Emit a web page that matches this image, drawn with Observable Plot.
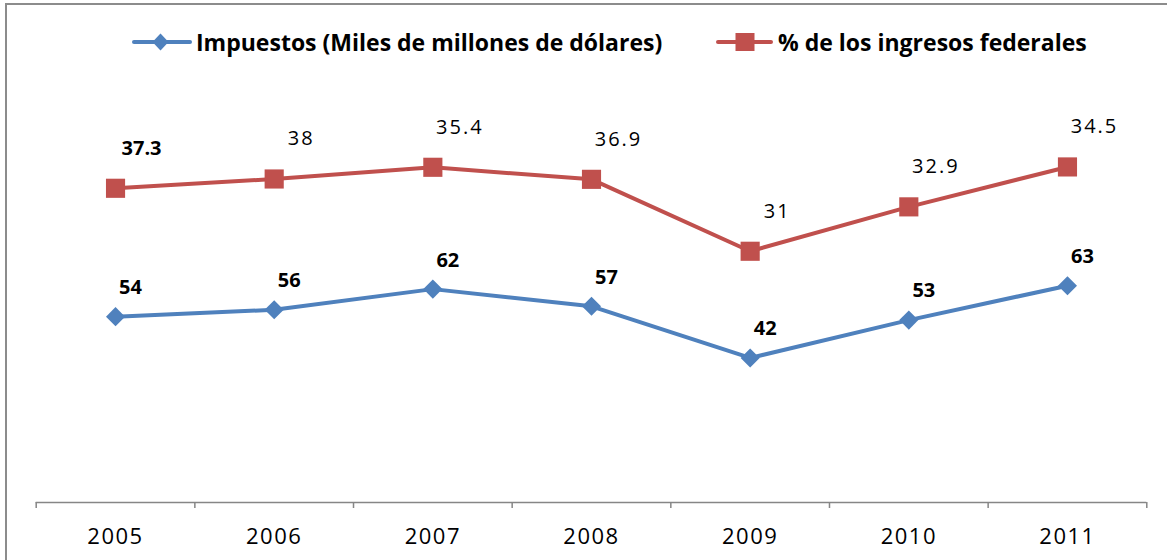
<!DOCTYPE html>
<html><head><meta charset="utf-8">
<script src="https://cdn.jsdelivr.net/npm/d3@7"></script>
<script src="https://cdn.jsdelivr.net/npm/@observablehq/plot@0.6"></script>
<style>
html,body{margin:0;padding:0;background:#fff;width:1167px;height:560px;overflow:hidden;font-family:"Open Sans",sans-serif;}
#frame{position:absolute;left:5px;top:3px;width:1200px;height:600px;border-left:2px solid #8c8c8c;border-top:2px solid #8c8c8c;}
#legend{position:absolute;left:0;top:0;width:1167px;height:70px;}
.item{position:absolute;top:26px;height:32px;display:flex;align-items:center;font-weight:bold;font-size:23px;color:#000;white-space:nowrap;}
#chart{position:absolute;left:0;top:70px;}
</style></head>
<body>
<div id="frame"></div>
<div id="legend"></div>
<div id="chart"></div>
<script>
// ---- data ----
const years = [2005, 2006, 2007, 2008, 2009, 2010, 2011];
const impuestos = [54, 56, 62, 57, 42, 53, 63];
const porcentaje = [37.3, 38, 35.4, 36.9, 31, 32.9, 34.5];
const seriesNames = ["Impuestos (Miles de millones de dólares)", "% de los ingresos federales"];

const blue = "#4F81BD", red = "#C0504D", axisGray = "#868686";
const font = "'Open Sans', sans-serif";

// stacked line chart: second series sits on top of the first
const impRows = years.map((year, i) => ({year, value: impuestos[i], top: impuestos[i]}));
const pctRows = years.map((year, i) => ({year, value: porcentaje[i], top: impuestos[i] + porcentaje[i], first: i === 0}));
const boundaries = years.map(y => y - 0.5).concat([years[years.length - 1] + 0.5]);

// ---- legend ----
const legend = document.getElementById("legend");
function addItem(left, color, symbol, label, gap) {
  const div = document.createElement("div");
  div.className = "item";
  div.style.left = left + "px";
  const shape = symbol === "diamond"
    ? `<path d="M28.5,1.5 L36.5,10 L28.5,18.5 L20.5,10 Z" fill="${color}"/>`
    : `<rect x="19.5" y="1" width="19" height="18" fill="${color}"/>`;
  const w = symbol === "diamond" ? 60 : 57;
  div.innerHTML = `<svg width="${w}" height="20" style="margin-right:${gap}px"><line x1="2" x2="${w - 2}" y1="10" y2="10" stroke="${color}" stroke-width="4" stroke-linecap="round"/>${shape}</svg><span>${label}</span>`;
  legend.appendChild(div);
}
addItem(132, blue, "diamond", seriesNames[0], 4);
addItem(716, red, "square", seriesNames[1], 5);

// ---- chart ----
const chart = Plot.plot({
  width: 1167,
  height: 490,
  marginLeft: 35.7,
  marginRight: 20.7,
  marginTop: 19,
  marginBottom: 58,
  style: {fontFamily: font, background: "transparent", overflow: "visible"},
  x: {type: "linear", domain: [boundaries[0], boundaries[boundaries.length - 1]], axis: null},
  y: {domain: [0, 120], axis: null},
  marks: [
    Plot.ruleY([0], {stroke: axisGray, strokeWidth: 1.5}),
    Plot.axisX(boundaries, {tickSize: 6, tickFormat: () => "", label: null, stroke: axisGray, strokeWidth: 1.5}),
    Plot.axisX(years, {tickSize: 0, tickPadding: 26, tickFormat: d => String(d), label: null, fontSize: 22, fill: "#000002", fontFamily: font}),
    Plot.line(impRows, {x: "year", y: "top", stroke: blue, strokeWidth: 4}),
    Plot.line(pctRows, {x: "year", y: "top", stroke: red, strokeWidth: 4}),
    Plot.dot(impRows, {x: "year", y: "top", symbol: "diamond2", r: 8.6, fill: blue, stroke: "none"}),
    Plot.dot(pctRows, {x: "year", y: "top", symbol: "square", r: 10.8, fill: red, stroke: "none"}),
    Plot.text(impRows, {x: "year", y: "top", text: d => String(d.value), dx: 15, dy: -29, fontSize: 20, fontWeight: "bold", fill: "#000"}),
    Plot.text(pctRows.filter(d => !d.first), {x: "year", y: "top", text: d => String(d.value), dx: 27, dy: -40, fontSize: 20, fill: "#000001"}),
    Plot.text(pctRows.filter(d => d.first), {x: "year", y: "top", text: d => String(d.value), dx: 26, dy: -40, fontSize: 20, fontWeight: "bold", fill: "#000"})
  ]
});
document.getElementById("chart").appendChild(chart);
// slightly wider lettering, like the reference's stretched type
chart.querySelectorAll('[fill="#000001"] text, text[fill="#000001"]').forEach(t => t.style.letterSpacing = "2px");
chart.querySelectorAll('[fill="#000002"] text, text[fill="#000002"]').forEach(t => t.style.letterSpacing = "1.5px");
</script>
</body></html>
